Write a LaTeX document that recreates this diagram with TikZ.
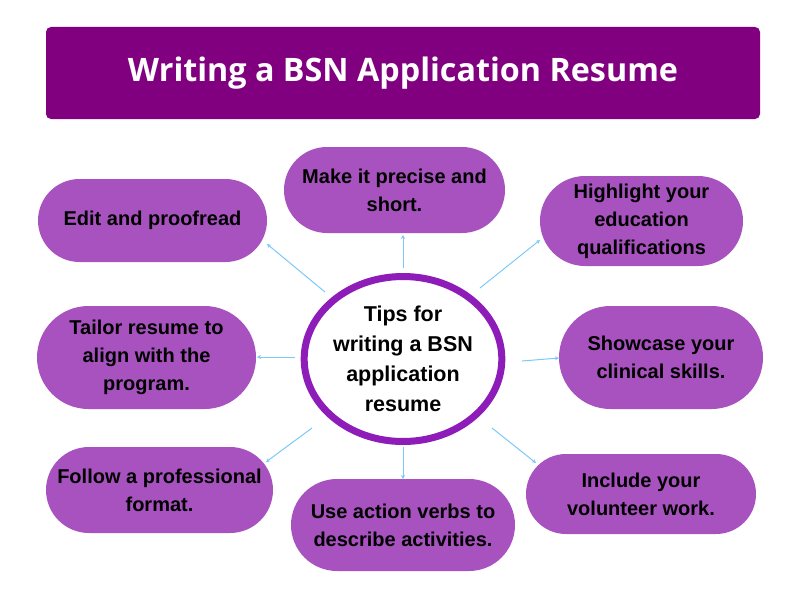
\documentclass[tikz,border=0pt]{standalone}
\usepackage{fontspec}
\setmainfont{Liberation Sans}
\newfontfamily\titrefont{Open Sans}
\usepackage{xcolor}
\usepackage{tikz}
\usetikzlibrary{positioning,arrows.meta,shapes.geometric,calc}

\definecolor{titrePurple}{RGB}{128,0,128}
\definecolor{pillPurple}{RGB}{168,82,192}
\definecolor{ringPurple}{RGB}{142,28,184}
\definecolor{lienBlue}{RGB}{124,200,248}

\begin{document}
\begin{tikzpicture}[
  x=1pt, y=-1pt,
  titrebar/.style={
    rectangle, fill=titrePurple, rounded corners=5pt,
    minimum width=714pt, minimum height=92pt,
    text=white, font=\titrefont\fontsize{32.3}{36}\selectfont\bfseries
  },
  hubnode/.style={
    ellipse, draw=ringPurple, line width=7pt, fill=white,
    minimum width=193pt, minimum height=165pt,
    align=center, inner sep=0pt,
    font=\fontsize{21.5}{30}\selectfont\bfseries
  },
  pill/.style={
    rectangle, fill=pillPurple, draw=none,
    minimum height=#1, rounded corners=#1/2,
    inner sep=2pt, align=center,
    font=\fontsize{20}{28}\selectfont\bfseries
  },
  fl/.style={-{Stealth[length=4pt,width=4pt]}, lienBlue, line width=1pt}
]
  \useasboundingbox (0,0) rectangle (800,594);

  % --- Titre ---
  \node[titrebar] (titre) at (403,73) {Writing a BSN Application Resume};

  % --- Centre ---
  \node[hubnode] (hub) at (403,359)
    {Tips for\\writing a BSN\\application\\resume};

  % --- Conseils ---
  \node[pill=83pt, minimum width=229pt]  (edit)      at (152.5,220.5)
    {Edit and proofread};
  \node[pill=86pt, minimum width=221pt]  (make)      at (394.5,190)
    {Make it precise and\\short.};
  \node[pill=90pt, minimum width=203pt]  (highlight) at (641.5,221)
    {Highlight your\\education\\qualifications};
  \node[pill=103pt, minimum width=219pt] (tailor)    at (146.5,357.5)
    {Tailor resume to\\align with the\\program.};
  \node[pill=103pt, minimum width=204pt] (showcase)  at (661,357.5)
    {Showcase your\\clinical skills.};
  \node[pill=86pt, minimum width=227pt]  (follow)    at (159.5,490)
    {Follow a professional\\format.};
  \node[pill=92pt, minimum width=224pt]  (action)    at (403,525)
    {Use action verbs to\\describe activities.};
  \node[pill=80pt, minimum width=230pt]  (include)   at (641,494)
    {Include your\\volunteer work.};

  % --- Flèches (du centre vers chaque conseil) ---
  \draw[fl] ($(hub.center)+(-78,-67)$) -- ($(edit.center)+(114.5,23.5)$);
  \draw[fl] ($(hub.center)+(0,-91)$)   -- ($(make.center)+(8.5,45)$);
  \draw[fl] ($(hub.center)+(77,-71)$)  -- ($(highlight.center)+(-101.5,19)$);
  \draw[fl] ($(hub.center)+(-108,-2)$) -- ($(tailor.center)+(110.5,-0.5)$);
  \draw[fl] ($(hub.center)+(119,2)$)   -- ($(showcase.center)+(-102,0.5)$);
  \draw[fl] ($(hub.center)+(-91,69)$)  -- ($(follow.center)+(106.5,-28)$);
  \draw[fl] ($(hub.center)+(0,88)$)    -- ($(action.center)+(0,-46)$);
  \draw[fl] ($(hub.center)+(89,69)$)   -- ($(include.center)+(-105,-31)$);

\end{tikzpicture}
\end{document}
